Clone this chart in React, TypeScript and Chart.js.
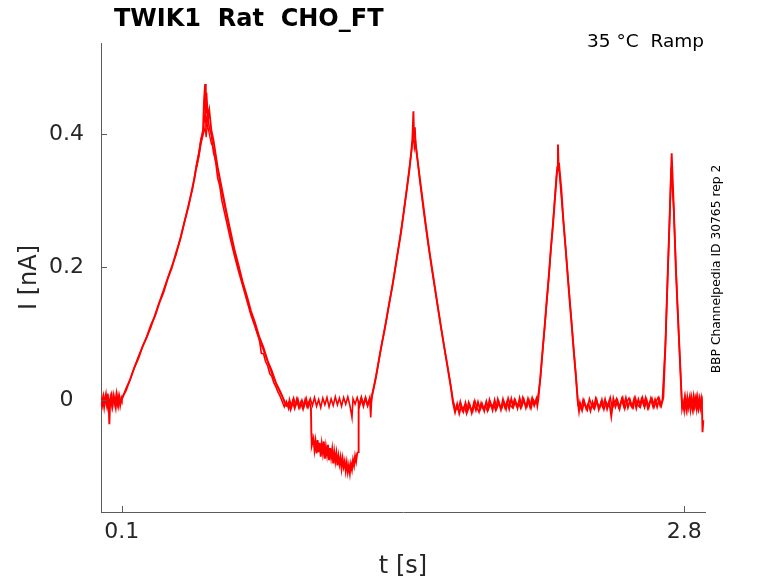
import React, { useEffect, useRef } from "react";
import { Chart, registerables } from "chart.js";

Chart.register(...registerables);

// ---- data (time in s, current in nA) ----
const sweepA: [number, number][] = [
  [0.000, 0.004], [0.006, -0.007], [0.012, 0.006], [0.018, -0.004], [0.024, 0.008], [0.030, -0.009],
  [0.036, 0.003], [0.040, -0.036], [0.044, -0.002], [0.050, 0.007], [0.056, -0.008], [0.062, 0.005],
  [0.068, -0.006], [0.074, 0.009], [0.080, -0.005], [0.086, 0.006], [0.092, -0.008], [0.098, 0.003],
  [0.10, 0.001], [0.12, 0.017], [0.14, 0.031], [0.16, 0.049], [0.18, 0.063], [0.20, 0.081], [0.22, 0.095],
  [0.24, 0.113], [0.26, 0.127], [0.28, 0.146], [0.30, 0.162], [0.32, 0.182], [0.34, 0.199], [0.36, 0.221],
  [0.38, 0.241], [0.40, 0.267], [0.42, 0.291], [0.44, 0.321], [0.45, 0.335], [0.46, 0.354], [0.47, 0.369],
  [0.48, 0.390], [0.49, 0.406], [0.495, 0.452], [0.50, 0.475], [0.503, 0.430], [0.506, 0.462], [0.51, 0.440],
  [0.515, 0.425], [0.52, 0.435], [0.53, 0.405], [0.54, 0.390], [0.56, 0.350], [0.58, 0.318], [0.60, 0.286],
  [0.62, 0.256], [0.64, 0.227], [0.66, 0.203], [0.68, 0.178], [0.70, 0.157], [0.72, 0.134], [0.74, 0.116],
  [0.76, 0.095], [0.78, 0.079], [0.80, 0.059], [0.82, 0.044], [0.84, 0.026], [0.86, 0.013], [0.87, 0.006],
  [0.88, -0.003], [0.89, -0.008],
  [0.90, -0.004], [0.91, -0.014], [0.92, -0.002], [0.93, -0.012], [0.94, 0.001], [0.95, -0.011], [0.96, -0.003],
  [0.97, -0.013], [0.98, 0.000], [0.99, -0.010], [1.00, -0.002], [1.008, -0.012], [1.010, -0.050], [1.012, -0.068],
  [1.02, -0.058], [1.025, -0.075], [1.03, -0.062], [1.035, -0.080], [1.04, -0.060], [1.045, -0.078], [1.05, -0.064],
  [1.055, -0.085], [1.06, -0.066], [1.065, -0.079], [1.07, -0.062], [1.075, -0.088], [1.08, -0.070], [1.085, -0.082],
  [1.09, -0.067], [1.095, -0.090], [1.10, -0.072], [1.105, -0.086], [1.11, -0.074], [1.115, -0.095], [1.12, -0.078],
  [1.125, -0.092], [1.13, -0.080], [1.135, -0.098], [1.14, -0.084], [1.145, -0.096], [1.15, -0.086], [1.155, -0.102],
  [1.16, -0.088], [1.165, -0.100], [1.17, -0.092], [1.175, -0.106], [1.18, -0.094], [1.185, -0.108], [1.19, -0.098],
  [1.195, -0.110], [1.20, -0.096], [1.205, -0.104], [1.21, -0.090], [1.215, -0.098], [1.22, -0.084], [1.225, -0.092],
  [1.23, -0.080], [1.235, -0.078], [1.237, -0.002], [1.24, -0.010], [1.25, 0.002], [1.26, -0.009], [1.27, 0.003],
  [1.28, -0.008], [1.29, 0.002], [1.296, -0.006],
  [1.30, 0.004], [1.32, 0.034], [1.34, 0.071], [1.36, 0.103], [1.38, 0.139], [1.40, 0.173], [1.42, 0.213],
  [1.44, 0.251], [1.46, 0.297], [1.48, 0.344], [1.49, 0.374], [1.495, 0.392], [1.50, 0.434], [1.503, 0.395],
  [1.507, 0.410], [1.51, 0.385], [1.52, 0.360], [1.54, 0.311], [1.56, 0.262], [1.58, 0.217], [1.60, 0.176],
  [1.62, 0.135], [1.64, 0.095], [1.66, 0.057], [1.68, 0.019], [1.69, -0.004],
  [1.70, -0.018], [1.71, -0.006], [1.72, -0.020], [1.73, -0.008], [1.74, -0.017], [1.75, -0.004], [1.76, -0.016],
  [1.77, -0.007], [1.78, -0.019], [1.79, -0.005], [1.80, -0.015], [1.81, -0.003], [1.82, -0.014], [1.83, -0.006],
  [1.84, -0.016], [1.85, -0.002], [1.86, -0.013], [1.87, -0.004], [1.88, -0.015], [1.89, 0.000], [1.90, -0.012],
  [1.91, -0.003], [1.92, -0.014], [1.93, 0.001], [1.94, -0.011], [1.95, -0.002], [1.96, -0.013], [1.97, 0.002],
  [1.98, -0.010], [1.99, -0.001], [2.00, -0.012], [2.01, 0.003], [2.02, -0.009], [2.03, 0.001], [2.04, -0.011],
  [2.05, 0.002], [2.06, -0.010], [2.07, 0.003], [2.08, -0.008], [2.09, 0.002], [2.095, -0.008],
  [2.10, 0.002], [2.11, 0.036], [2.12, 0.074], [2.13, 0.110], [2.14, 0.150], [2.15, 0.186], [2.16, 0.228],
  [2.17, 0.262], [2.18, 0.304], [2.19, 0.345], [2.194, 0.384], [2.197, 0.350], [2.20, 0.352], [2.21, 0.318],
  [2.22, 0.270], [2.23, 0.232], [2.24, 0.190], [2.25, 0.150], [2.26, 0.112], [2.27, 0.072], [2.28, 0.036],
  [2.29, -0.004],
  [2.295, -0.016], [2.30, -0.004], [2.31, -0.015], [2.32, -0.002], [2.33, -0.013], [2.34, -0.005], [2.35, -0.016],
  [2.36, -0.003], [2.37, -0.012], [2.38, 0.000], [2.39, -0.014], [2.40, -0.004], [2.41, -0.011], [2.42, 0.001],
  [2.43, -0.013], [2.44, -0.002], [2.45, -0.024], [2.46, 0.002], [2.47, -0.010], [2.48, -0.001], [2.49, -0.013],
  [2.50, 0.001], [2.51, -0.009], [2.52, 0.003], [2.53, -0.011], [2.54, 0.000], [2.55, -0.010], [2.56, 0.002],
  [2.57, -0.012], [2.58, 0.001], [2.59, -0.009], [2.60, 0.003], [2.61, -0.010], [2.62, 0.000], [2.63, -0.011],
  [2.64, 0.002], [2.65, -0.009], [2.66, 0.001], [2.67, -0.010], [2.68, 0.002], [2.69, -0.008],
  [2.70, 0.004], [2.71, 0.082], [2.72, 0.180], [2.73, 0.272], [2.74, 0.371], [2.745, 0.330], [2.75, 0.290],
  [2.76, 0.196], [2.77, 0.128], [2.78, 0.058], [2.79, -0.012],
  [2.795, -0.004], [2.80, -0.015], [2.805, 0.002], [2.81, -0.012], [2.815, 0.003], [2.82, -0.010], [2.825, 0.001],
  [2.83, -0.013], [2.835, 0.002], [2.84, -0.011], [2.845, 0.004], [2.85, -0.009], [2.855, 0.001], [2.86, -0.012],
  [2.865, 0.003], [2.87, -0.010], [2.875, 0.002], [2.88, -0.008], [2.885, -0.002], [2.888, -0.048], [2.892, -0.030],
];

const sweepB: [number, number][] = [
  [0.003, -0.010], [0.009, 0.002], [0.015, -0.012], [0.021, 0.005], [0.027, -0.006], [0.033, 0.010],
  [0.039, -0.014], [0.045, 0.004], [0.053, -0.011], [0.059, 0.008], [0.065, -0.003], [0.071, -0.013],
  [0.077, 0.006], [0.083, -0.009], [0.089, 0.005], [0.095, -0.004], [0.101, 0.004],
  [0.12, 0.014], [0.15, 0.040], [0.18, 0.066], [0.21, 0.088], [0.24, 0.110], [0.27, 0.138], [0.30, 0.165],
  [0.33, 0.192], [0.36, 0.218], [0.39, 0.254], [0.42, 0.293],
  [0.44, 0.318], [0.45, 0.338], [0.46, 0.356], [0.47, 0.372], [0.48, 0.392], [0.49, 0.402], [0.495, 0.418],
  [0.50, 0.432], [0.505, 0.410], [0.51, 0.428], [0.52, 0.410], [0.53, 0.398], [0.54, 0.372], [0.55, 0.360],
  [0.56, 0.334], [0.57, 0.322], [0.58, 0.300], [0.59, 0.286], [0.60, 0.272], [0.62, 0.244], [0.64, 0.218],
  [0.66, 0.194], [0.68, 0.172], [0.70, 0.150], [0.72, 0.128], [0.74, 0.110], [0.75, 0.100], [0.76, 0.092],
  [0.77, 0.070], [0.78, 0.070], [0.79, 0.058], [0.80, 0.052], [0.81, 0.040], [0.82, 0.036], [0.83, 0.026],
  [0.84, 0.020], [0.85, 0.012], [0.86, 0.006], [0.87, -0.002], [0.88, -0.010], [0.89, -0.002],
  [0.90, -0.012], [0.905, 0.001], [0.915, -0.010], [0.925, 0.003], [0.935, -0.008], [0.945, 0.002], [0.955, -0.011],
  [0.965, 0.000], [0.975, -0.009], [0.985, 0.003], [0.995, -0.010], [1.005, 0.002], [1.015, -0.008], [1.025, 0.004],
  [1.035, -0.009], [1.045, 0.001], [1.055, -0.011], [1.065, 0.003], [1.075, -0.007], [1.085, 0.004], [1.095, -0.010],
  [1.105, 0.002], [1.115, -0.008], [1.125, 0.005], [1.135, -0.007], [1.145, 0.003], [1.155, -0.009], [1.165, 0.004],
  [1.175, -0.006], [1.185, 0.005], [1.195, -0.008], [1.205, -0.026], [1.21, 0.002], [1.22, -0.006], [1.23, 0.004],
  [1.24, -0.007], [1.25, 0.005], [1.26, -0.006], [1.27, 0.004], [1.28, -0.008], [1.29, 0.003], [1.295, -0.026],
  [1.30, 0.006], [1.31, 0.020], [1.33, 0.052], [1.35, 0.088], [1.37, 0.120], [1.39, 0.156], [1.41, 0.192],
  [1.43, 0.232], [1.45, 0.275], [1.47, 0.322], [1.49, 0.372], [1.50, 0.400], [1.505, 0.380], [1.51, 0.390],
  [1.53, 0.332], [1.55, 0.282], [1.57, 0.236], [1.59, 0.194], [1.61, 0.154], [1.63, 0.114], [1.65, 0.076],
  [1.67, 0.040], [1.69, 0.000], [1.70, -0.012],
  [1.715, -0.014], [1.725, -0.002], [1.735, -0.016], [1.745, -0.009], [1.755, -0.020], [1.765, -0.003], [1.775, -0.012],
  [1.785, -0.017], [1.795, -0.001], [1.805, -0.011], [1.815, -0.018], [1.825, -0.004], [1.835, -0.013], [1.845, -0.008],
  [1.855, -0.016], [1.865, 0.001], [1.875, -0.010], [1.885, -0.006], [1.895, -0.015], [1.905, 0.002], [1.915, -0.009],
  [1.925, -0.012], [1.935, -0.003], [1.945, -0.014], [1.955, 0.003], [1.965, -0.007], [1.975, -0.011], [1.985, 0.001],
  [1.995, -0.009], [2.005, -0.004], [2.015, -0.012], [2.025, 0.004], [2.035, -0.006], [2.045, -0.010], [2.055, 0.000],
  [2.065, -0.012], [2.075, 0.001], [2.085, -0.005], [2.095, -0.002],
  [2.11, 0.034], [2.15, 0.184], [2.19, 0.350], [2.193, 0.362], [2.20, 0.345], [2.24, 0.192], [2.28, 0.038], [2.29, -0.006],
  [2.295, -0.004], [2.305, -0.013], [2.315, 0.001], [2.325, -0.008], [2.335, -0.015], [2.345, 0.002], [2.355, -0.007],
  [2.365, -0.012], [2.375, 0.003], [2.385, -0.006], [2.395, -0.011], [2.405, 0.001], [2.415, -0.014], [2.425, -0.003],
  [2.435, -0.008], [2.445, 0.004], [2.455, -0.012], [2.465, -0.005], [2.475, 0.002], [2.485, -0.011], [2.495, -0.004],
  [2.505, 0.004], [2.515, -0.013], [2.525, -0.002], [2.535, 0.003], [2.545, -0.009], [2.555, -0.012], [2.565, 0.004],
  [2.575, -0.006], [2.585, -0.010], [2.595, 0.002], [2.605, -0.007], [2.615, 0.004], [2.625, -0.012], [2.635, -0.003],
  [2.645, 0.003], [2.655, -0.011], [2.665, -0.002], [2.675, 0.004], [2.685, -0.009], [2.695, -0.001],
  [2.71, 0.085], [2.73, 0.270], [2.738, 0.350], [2.75, 0.285], [2.77, 0.125], [2.79, -0.010],
  [2.797, -0.013], [2.803, 0.004], [2.808, -0.009], [2.813, -0.016], [2.818, 0.001], [2.823, -0.006], [2.828, 0.005],
  [2.833, -0.011], [2.838, -0.004], [2.843, -0.014], [2.848, 0.003], [2.853, -0.007], [2.858, 0.004], [2.863, -0.010],
  [2.868, -0.015], [2.873, 0.000], [2.878, -0.012], [2.883, 0.003], [2.887, -0.006],
];

const sweepC: [number, number][] = [
  [0.46, 0.350], [0.47, 0.366], [0.48, 0.385], [0.49, 0.398], [0.50, 0.410], [0.505, 0.395], [0.51, 0.415],
  [0.52, 0.400], [0.53, 0.385], [0.54, 0.380], [0.55, 0.358], [0.56, 0.348], [0.57, 0.330], [0.58, 0.312],
  [0.60, 0.282], [0.62, 0.252], [0.64, 0.224], [0.66, 0.200], [0.68, 0.176], [0.70, 0.152], [0.72, 0.130],
  [0.74, 0.112], [0.76, 0.090], [0.78, 0.075], [0.80, 0.058], [0.82, 0.040], [0.84, 0.025], [0.86, 0.012],
  [0.88, 0.000], [0.89, -0.010],
];

const xTickValues = [0.1, 2.8];
const xTickLabels = ["0.1", "2.8"];
const yTickValues = [0, 0.2, 0.4];
const yTickLabels = ["0", "0.2", "0.4"];

const titleText = "TWIK1  Rat  CHO_FT";
const conditionText = "35 °C  Ramp";
const sideText = "BBP Channelpedia ID 30765 rep 2";

const FONT = "'DejaVu Sans', 'Liberation Sans', sans-serif";
const AXIS_COLOR = "#5c5c5c";
const TEXT_COLOR = "#262626";

export default function App() {
  const ref = useRef<HTMLCanvasElement | null>(null);

  useEffect(() => {
    if (!ref.current) return;
    const toXY = (arr: [number, number][]) => arr.map(([x, y]) => ({ x, y }));

    const overlay = {
      id: "overlay",
      afterDraw(chart: any) {
        const { ctx, chartArea } = chart;
        const xs = chart.scales.x;
        const ys = chart.scales.y;
        ctx.save();
        ctx.strokeStyle = AXIS_COLOR;
        ctx.lineWidth = 1;
        ctx.beginPath();
        yTickValues.forEach((v) => {
          const py = Math.round(ys.getPixelForValue(v)) + 0.5;
          ctx.moveTo(chartArea.left, py);
          ctx.lineTo(chartArea.left + 6, py);
        });
        xTickValues.forEach((v) => {
          const px = Math.round(xs.getPixelForValue(v)) + 0.5;
          ctx.moveTo(px, chartArea.bottom);
          ctx.lineTo(px, chartArea.bottom - 6);
        });
        ctx.stroke();

        ctx.fillStyle = "#000";
        ctx.textAlign = "left";
        ctx.textBaseline = "alphabetic";
        ctx.font = `bold 24px ${FONT}`;
        ctx.fillText(titleText, 114, 26);

        ctx.font = `18.5px ${FONT}`;
        ctx.textAlign = "right";
        ctx.fillText(conditionText, 704, 47);

        ctx.font = `12.3px ${FONT}`;
        ctx.textAlign = "center";
        ctx.translate(719.5, 269);
        ctx.rotate(-Math.PI / 2);
        ctx.fillText(sideText, 0, 0);
        ctx.restore();
      },
    };

    const ds = (arr: [number, number][], w: number) => ({
      data: toXY(arr),
      borderColor: "#ff0000",
      borderWidth: w,
      pointRadius: 0,
      tension: 0,
      fill: false,
    });

    const chart = new Chart(ref.current, {
      type: "line",
      data: { datasets: [ds(sweepC, 1.4), ds(sweepB, 1.6), ds(sweepA, 1.9)] as any },
      options: {
        animation: false,
        responsive: false,
        maintainAspectRatio: false,
        layout: { padding: { left: 0, right: 73, top: 43, bottom: 0 } },
        plugins: { legend: { display: false }, tooltip: { enabled: false }, title: { display: false } },
        scales: {
          x: {
            type: "linear",
            position: "bottom",
            min: 0,
            max: 2.9,
            grid: { display: false, drawTicks: false },
            border: { display: true, color: AXIS_COLOR, width: 1 },
            afterBuildTicks: (s: any) => {
              s.ticks = xTickValues.map((v) => ({ value: v }));
            },
            afterFit: (s: any) => {
              s.height = 71;
            },
            ticks: {
              autoSkip: false,
              maxRotation: 0,
              padding: 7,
              color: TEXT_COLOR,
              font: { family: FONT, size: 22 },
              callback: (_v: any, i: number) => xTickLabels[i],
            },
            title: {
              display: true,
              text: "t [s]",
              color: TEXT_COLOR,
              font: { family: FONT, size: 24 },
              padding: { top: 0, bottom: 2 },
            },
          },
          y: {
            type: "linear",
            position: "left",
            min: -0.168,
            max: 0.5365,
            grid: { display: false, drawTicks: false },
            border: { display: true, color: AXIS_COLOR, width: 1 },
            afterBuildTicks: (s: any) => {
              s.ticks = yTickValues.map((v) => ({ value: v }));
            },
            afterFit: (s: any) => {
              s.width = 101;
            },
            ticks: {
              autoSkip: false,
              padding: 17,
              crossAlign: "center",
              color: TEXT_COLOR,
              font: { family: FONT, size: 22 },
              callback: (_v: any, i: number) => yTickLabels[i],
            },
            title: {
              display: true,
              text: "I [nA]",
              color: TEXT_COLOR,
              font: { family: FONT, size: 24 },
              padding: { top: 15, bottom: 0 },
            },
          },
        },
      } as any,
      plugins: [overlay],
    });
    return () => chart.destroy();
  }, []);

  return (
    <div style={{ position: "absolute", left: 0, top: 0, width: 778, height: 583, background: "#fff" }}>
      <canvas ref={ref} width={778} height={583} style={{ display: "block" }} />
    </div>
  );
}
